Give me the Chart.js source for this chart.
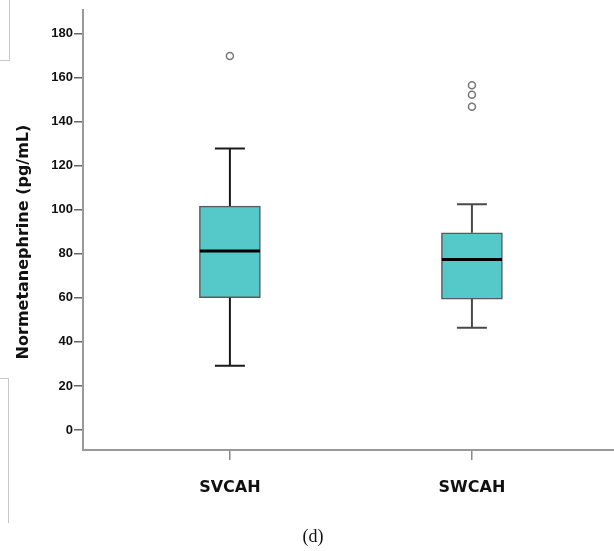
<!DOCTYPE html>
<html>
<head>
<meta charset="utf-8">
<script src="https://cdn.jsdelivr.net/npm/chart.js@4/dist/chart.umd.min.js"></script>
<style>
  body { margin: 0; background: #fff; }
  #wrap { position: relative; width: 614px; height: 551px; }
  .edge { position: absolute; border-color: #c8c8c8; border-style: solid; border-width: 0; }
</style>
</head>
<body>
<div id="wrap">
  <canvas id="boxChart"></canvas>
  <div class="edge" style="left:0;top:0;width:9px;height:60px;border-right-width:1px;border-bottom-width:1px;"></div>
  <div class="edge" style="left:0;top:378px;width:8px;height:144px;border-right-width:1px;border-top-width:1px;"></div>
</div>
<script>
// Dados do boxplot
const grupos = ['SVCAH', 'SWCAH'];
const bigodeMin = [29.2, 46.4];
const quartil1 = [60.0, 59.4];
const mediana = [81.2, 77.4];
const quartil3 = [101.6, 89.5];
const bigodeMax = [127.8, 102.4];
const outliers = [[169.7], [156.5, 152.1, 146.7]];
const yTicks = [0, 20, 40, 60, 80, 100, 120, 140, 160, 180];

const corBigode = ['#1a1a1a', '#4a4a4a'];

// bigodes, mediana, titulo do eixo e legenda (d)
const boxExtras = {
  id: 'boxExtras',
  afterDatasetsDraw(chart) {
    const { ctx, scales: { x, y } } = chart;
    ctx.save();
    grupos.forEach((g, i) => {
      const cx = x.getPixelForValue(i + 1);
      ctx.strokeStyle = corBigode[i];
      ctx.lineWidth = 2;
      ctx.beginPath();
      ctx.moveTo(cx, y.getPixelForValue(quartil3[i]));
      ctx.lineTo(cx, y.getPixelForValue(bigodeMax[i]));
      ctx.moveTo(cx, y.getPixelForValue(quartil1[i]));
      ctx.lineTo(cx, y.getPixelForValue(bigodeMin[i]));
      ctx.moveTo(cx - 15, y.getPixelForValue(bigodeMax[i]));
      ctx.lineTo(cx + 15, y.getPixelForValue(bigodeMax[i]));
      ctx.moveTo(cx - 15, y.getPixelForValue(bigodeMin[i]));
      ctx.lineTo(cx + 15, y.getPixelForValue(bigodeMin[i]));
      ctx.stroke();
      // mediana
      ctx.strokeStyle = '#000';
      ctx.lineWidth = 3;
      ctx.beginPath();
      ctx.moveTo(cx - 30, y.getPixelForValue(mediana[i]));
      ctx.lineTo(cx + 30, y.getPixelForValue(mediana[i]));
      ctx.stroke();
    });
    ctx.restore();
  },
  afterDraw(chart) {
    const { ctx } = chart;
    ctx.save();
    ctx.fillStyle = '#111';
    ctx.font = 'bold 16px "DejaVu Sans"';
    ctx.textAlign = 'center';
    ctx.textBaseline = 'middle';
    ctx.translate(24, 242);
    ctx.rotate(-Math.PI / 2);
    ctx.fillText('Normetanephrine (pg/mL)', 0, 0);
    ctx.restore();

    ctx.save();
    ctx.fillStyle = '#111';
    ctx.font = '18px "Liberation Serif"';
    ctx.textAlign = 'center';
    ctx.textBaseline = 'middle';
    ctx.fillText('(d)', 313, 537);
    ctx.restore();
  }
};

const ctx = document.getElementById('boxChart').getContext('2d');
new Chart(ctx, {
  data: {
    datasets: [
      {
        type: 'bar',
        data: grupos.map((g, i) => ({ x: i + 1, y: [quartil1[i], quartil3[i]] })),
        backgroundColor: '#55c9c9',
        borderColor: '#5a5a5a',
        borderWidth: 1.5,
        borderSkipped: false,
        barThickness: 61
      },
      {
        type: 'scatter',
        data: outliers.flatMap((lista, i) => lista.map(v => ({ x: i + 1, y: v }))),
        pointStyle: 'circle',
        radius: 3.5,
        backgroundColor: '#fff',
        borderColor: '#777',
        borderWidth: 1.5
      }
    ]
  },
  options: {
    responsive: true,
    maintainAspectRatio: false,
    animation: false,
    layout: { autoPadding: false, padding: { left: 0, top: 10, right: 0, bottom: 41 } },
    plugins: {
      legend: { display: false },
      tooltip: { enabled: false }
    },
    scales: {
      x: {
        type: 'linear',
        min: 0.393,
        max: 2.587,
        offset: false,
        afterBuildTicks: (scale) => { scale.ticks = grupos.map((g, i) => ({ value: i + 1 })); },
        afterFit: (scale) => {
          scale.height = 60;
          scale.paddingLeft = 0;
          scale.paddingRight = 0;
        },
        ticks: {
          callback: (v) => grupos[v - 1] || '',
          color: '#111',
          font: { family: 'DejaVu Sans', size: 16, weight: 'bold' },
          padding: 18,
          maxRotation: 0,
          autoSkip: false
        },
        grid: { offset: false, drawOnChartArea: false, drawTicks: true, tickLength: 10, color: '#888', lineWidth: 1.5 },
        border: { display: true, color: '#999', width: 2 }
      },
      y: {
        min: -9.07,
        max: 190.6,
        afterBuildTicks: (scale) => { scale.ticks = yTicks.map(v => ({ value: v })); },
        afterFit: (scale) => {
          scale.width = 83;
          scale.paddingTop = 0;
          scale.paddingBottom = 0;
        },
        ticks: {
          color: '#111',
          font: { family: 'Liberation Sans', size: 13, weight: 'bold' },
          padding: 1
        },
        grid: { drawOnChartArea: false, drawTicks: true, tickLength: 9, color: '#666', lineWidth: 1.5 },
        border: { display: true, color: '#999', width: 2 }
      }
    }
  },
  plugins: [boxExtras]
});
</script>
</body>
</html>
